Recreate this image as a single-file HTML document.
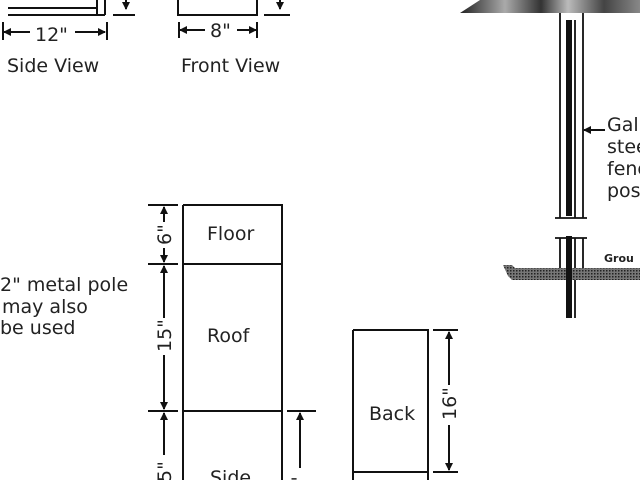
<!DOCTYPE html>
<html><head><meta charset="utf-8"><style>
html,body{margin:0;padding:0;background:#fff;width:640px;height:480px;overflow:hidden}
text{font-family:"DejaVu Sans","Liberation Sans",sans-serif;fill:#222}
</style></head><body>
<svg width="640" height="480" viewBox="0 0 640 480" xmlns="http://www.w3.org/2000/svg">
<defs>
<linearGradient id="rg" x1="0" x2="1" y1="0" y2="0">
<stop offset="0" stop-color="#222"/><stop offset="0.25" stop-color="#aaa"/><stop offset="0.45" stop-color="#333"/><stop offset="0.6" stop-color="#bbb"/><stop offset="0.8" stop-color="#444"/><stop offset="1" stop-color="#888"/>
</linearGradient>
<marker id="ah" markerWidth="8" markerHeight="8" refX="7" refY="4" orient="auto" markerUnits="userSpaceOnUse"><path d="M0,0 L8,4 L0,8 z" fill="#111"/></marker>
<pattern id="hatch" width="3" height="3" patternUnits="userSpaceOnUse"><rect width="3" height="3" fill="#777"/><rect width="1.5" height="1.5" fill="#222"/></pattern>
</defs>
<g stroke="#111" stroke-width="2" fill="none">
<path d="M8,15 H105 M97,0 V15 M105,0 V15 M8,8 H97 M113,15 H135"/>
<line x1="126" y1="0" x2="126" y2="9" marker-end="url(#ah)"/>
<path d="M3,22 V40 M107,22 V40"/>
<line x1="30" y1="32" x2="4" y2="32" marker-end="url(#ah)"/>
<line x1="75" y1="32" x2="105" y2="32" marker-end="url(#ah)"/>
<path d="M178,0 V15 H257 V0 M264,15 H290"/>
<line x1="280" y1="0" x2="280" y2="9" marker-end="url(#ah)"/>
<path d="M179,22 V38 M257,22 V38"/>
<line x1="205" y1="30" x2="180" y2="30" marker-end="url(#ah)"/>
<line x1="237" y1="30" x2="256" y2="30" marker-end="url(#ah)"/>
<path d="M183,205 H282 V480 M183,205 V480 M183,264 H282 M183,411 H282"/>
<path d="M148,205 H178 M148,264 H178 M148,411 H178 M287,411 H316"/>
<line x1="164" y1="222" x2="164" y2="207" marker-end="url(#ah)"/>
<line x1="164" y1="248" x2="164" y2="262" marker-end="url(#ah)"/>
<line x1="164" y1="318" x2="164" y2="266" marker-end="url(#ah)"/>
<line x1="164" y1="355" x2="164" y2="409" marker-end="url(#ah)"/>
<line x1="164" y1="455" x2="164" y2="413" marker-end="url(#ah)"/>
<line x1="300" y1="468" x2="300" y2="413" marker-end="url(#ah)"/>
<path d="M353,330 H428 V480 M353,330 V480 M353,472 H428 M433,330 H458 M433,472 H458"/>
<line x1="449" y1="385" x2="449" y2="332" marker-end="url(#ah)"/>
<line x1="449" y1="425" x2="449" y2="470" marker-end="url(#ah)"/>
<path d="M560,12 V218 M583,12 V218 M575,20 V218 M555,218 H587 M555,238 H587 M560,238 V268 M583,238 V268 M575,238 V318" stroke-width="1.8"/>
<line x1="605" y1="130" x2="584" y2="130" marker-end="url(#ah)"/>
</g>
<path d="M480,0 H640 V13 H460 Z" fill="url(#rg)"/>
<path d="M503,265 H512 L515,268 H640 V280 H512 L508,276 Z" fill="url(#hatch)"/>
<rect x="566" y="20" width="6" height="196" fill="#111"/>
<rect x="566" y="236" width="6" height="82" fill="#111"/>
<g font-size="19">
<text x="35" y="41">12"</text>
<text x="210" y="37">8"</text>
<text x="7" y="72">Side View</text>
<text x="181" y="72">Front View</text>
<text x="0" y="291">2" metal pole</text>
<text x="2" y="313">may also</text>
<text x="0" y="334">be used</text>
<text x="207" y="240">Floor</text>
<text x="207" y="342">Roof</text>
<text x="369" y="420">Back</text>
<text x="210" y="484">Side</text>
<text x="607" y="131">Gal</text>
<text x="607" y="153">stee</text>
<text x="607" y="175">fenc</text>
<text x="607" y="197">pos</text>
<text transform="translate(171,245) rotate(-90)">6"</text>
<text transform="translate(171,352) rotate(-90)">15"</text>
<text transform="translate(171,482) rotate(-90)">5"</text>
<text transform="translate(456,420) rotate(-90)">16"</text>
<text transform="translate(305,485) rotate(-90)">"</text>
</g>
<text x="604" y="262" font-size="11" font-weight="bold">Grou</text>
</svg>
</body></html>
